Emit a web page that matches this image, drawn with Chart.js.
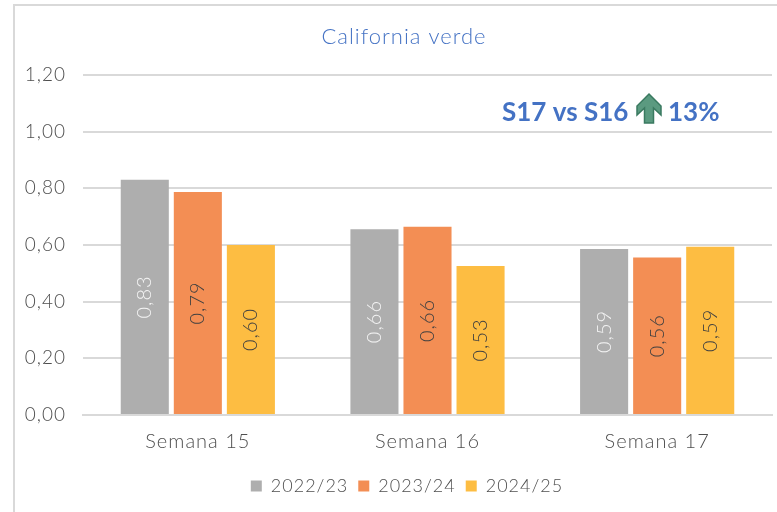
<!DOCTYPE html>
<html>
<head>
<meta charset="utf-8">
<title>California verde</title>
<script src="https://cdn.jsdelivr.net/npm/chart.js@4"></script>
<style>
	html, body { margin: 0; padding: 0; background: #fff; }
	#wrap { position: relative; width: 777px; height: 512px; }
</style>
</head>
<body>
<div id="wrap"><canvas id="chart"></canvas></div>
<script>
const categories = ['Semana 15', 'Semana 16', 'Semana 17'];
const seasons = ['2022/23', '2023/24', '2024/25'];
const values2223 = [0.83, 0.656, 0.586];
const values2324 = [0.787, 0.664, 0.556];
const values2425 = [0.60, 0.526, 0.594];
const seasonColors = ['#aeaeae', '#f38e54', '#fdbd42'];
const labelColors = ['#f4f4f4', '#404040', '#404040'];

const fontName = 'Lato, "Open Sans", sans-serif';
const gridColor = '#d9d9d9';
const textColor = '#4f4f4f';
const blue = '#4472c4';
const spacing = '1px';

// the original font is wider than anything installed, so open the text up a bit
const spacedText = {
	id: 'spacedText',
	beforeUpdate(chart) { chart.ctx.letterSpacing = spacing; },
	beforeLayout(chart) { chart.ctx.letterSpacing = spacing; },
	beforeDraw(chart) { chart.ctx.letterSpacing = spacing; }
};

const frame = {
	id: 'frame',
	beforeDraw(chart) {
		const ctx = chart.ctx;
		ctx.save();
		ctx.strokeStyle = gridColor;
		ctx.lineWidth = 2;
		ctx.beginPath();
		ctx.moveTo(14, 512);
		ctx.lineTo(14, 5);
		ctx.lineTo(777, 5);
		ctx.stroke();

		ctx.font = '300 22px ' + fontName;
		ctx.fillStyle = '#4472c4';
		ctx.textAlign = 'center';
		ctx.textBaseline = 'middle';
		ctx.fillText('California verde', 404, 37);
		ctx.restore();
	}
};

// legend sits right of the canvas centre in the original
const legendShift = {
	id: 'legendShift',
	afterLayout(chart) {
		chart.legend.left += 11;
		chart.legend.right += 11;
		chart.legend.top -= 2;
		chart.legend.bottom -= 2;
	}
};

const barLabels = {
	id: 'barLabels',
	afterDatasetsDraw(chart) {
		const ctx = chart.ctx;
		chart.data.datasets.forEach((dataset, i) => {
			chart.getDatasetMeta(i).data.forEach((bar, j) => {
				const text = dataset.data[j].toFixed(2).replace('.', ',');
				ctx.save();
				ctx.translate(bar.x, (bar.y + bar.base) / 2);
				ctx.rotate(-Math.PI / 2);
				ctx.font = '300 20px ' + fontName;
				ctx.fillStyle = labelColors[i];
				ctx.textAlign = 'center';
				ctx.textBaseline = 'middle';
				ctx.fillText(text, 0, 0);
				ctx.restore();
			});
		});
	}
};

const callout = {
	id: 'callout',
	afterDraw(chart) {
		const ctx = chart.ctx;
		ctx.save();
		ctx.letterSpacing = '0px';
		ctx.font = 'bold 26px ' + fontName;
		ctx.fillStyle = blue;
		ctx.textBaseline = 'alphabetic';
		ctx.fillText('S17 vs S16', 502, 121);
		ctx.fillText('13%', 668, 121);

		ctx.fillStyle = '#5b9a80';
		ctx.strokeStyle = '#3a7a60';
		ctx.lineWidth = 1.5;
		ctx.beginPath();
		ctx.moveTo(649, 94);
		ctx.lineTo(661, 106);
		ctx.lineTo(661, 115);
		ctx.lineTo(653.5, 108);
		ctx.lineTo(653.5, 123);
		ctx.lineTo(644.5, 123);
		ctx.lineTo(644.5, 108);
		ctx.lineTo(637, 115);
		ctx.lineTo(637, 106);
		ctx.closePath();
		ctx.fill();
		ctx.stroke();
		ctx.restore();
	}
};

new Chart(document.getElementById('chart'), {
	type: 'bar',
	data: {
		labels: categories,
		datasets: [
			{ label: seasons[0], data: values2223, backgroundColor: seasonColors[0] },
			{ label: seasons[1], data: values2324, backgroundColor: seasonColors[1] },
			{ label: seasons[2], data: values2425, backgroundColor: seasonColors[2] }
		]
	},
	options: {
		responsive: true,
		maintainAspectRatio: false,
		animation: false,
		layout: {
			padding: { left: 20, right: 5, top: 75, bottom: 5 }
		},
		datasets: {
			bar: {
				barPercentage: 0.906,
				categoryPercentage: 0.693
			}
		},
		scales: {
			x: {
				grid: { display: false, drawTicks: false },
				border: { color: gridColor, width: 2 },
				ticks: {
					color: textColor,
					padding: 15,
					font: { family: fontName, size: 20, weight: 300 }
				}
			},
			y: {
				min: 0,
				max: 1.2,
				afterFit(scale) { scale.width = 63; },
				grid: { color: gridColor, lineWidth: 2, drawTicks: false },
				border: { display: false },
				ticks: {
					stepSize: 0.2,
					color: textColor,
					padding: 17,
					font: { family: fontName, size: 19, weight: 300 },
					callback: (value) => value.toFixed(2).replace('.', ',')
				}
			}
		},
		plugins: {
			title: { display: false },
			legend: {
				position: 'bottom',
				labels: {
					boxWidth: 11,
					boxHeight: 11,
					color: textColor,
					padding: 10,
					font: { family: fontName, size: 18, weight: 300 }
				}
			},
			tooltip: { enabled: false }
		}
	},
	plugins: [spacedText, legendShift, frame, barLabels, callout]
});
</script>
</body>
</html>
